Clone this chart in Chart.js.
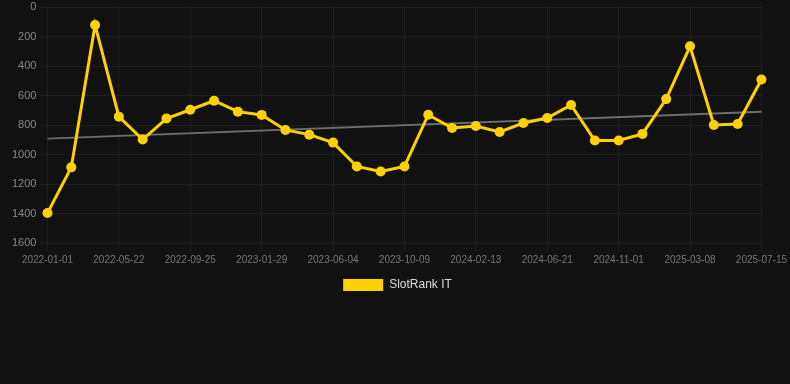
<!DOCTYPE html>
<html>
<head>
<meta charset="utf-8">
<script src="https://cdn.jsdelivr.net/npm/chart.js@4.4.1/dist/chart.umd.min.js"></script>
<style>
  html, body { margin: 0; padding: 0; background: #111111; }
  #wrap { width: 790px; height: 305px; position: relative; }
</style>
</head>
<body>
<div id="wrap"><canvas id="rankChart"></canvas></div>
<script>
// dates on the x axis (only every third one is shown as a tick)
const dates = [
    '2022-01-01', '2022-02-17', '2022-04-05', '2022-05-22', '2022-07-03', '2022-08-14',
    '2022-09-25', '2022-11-05', '2022-12-18', '2023-01-29', '2023-03-12', '2023-04-23',
    '2023-06-04', '2023-07-16', '2023-08-27', '2023-10-09', '2023-11-19', '2024-01-01',
    '2024-02-13', '2024-03-26', '2024-05-08', '2024-06-21', '2024-08-02', '2024-09-18',
    '2024-11-01', '2024-12-13', '2025-01-24', '2025-03-08', '2025-04-20', '2025-06-02',
    '2025-07-15'
];

// SlotRank IT position per date
const rankIT = [
    1397, 1087, 121, 743, 898, 756, 696, 635, 709, 731, 833, 865,
    919, 1081, 1115, 1081, 730, 820, 806, 847, 786, 752, 664, 905,
    905, 860, 624, 266, 799, 793, 491
];

// trend line: start and end values only
const trendStart = 892;
const trendEnd = 710;

const yTicks = [0, 200, 400, 600, 800, 1000, 1200, 1400, 1600];

const trend = dates.map((d, i) => i === 0 ? trendStart : (i === dates.length - 1 ? trendEnd : null));

const FONT = 'Arial, "Liberation Sans", sans-serif';

const ctx = document.getElementById('rankChart').getContext('2d');
new Chart(ctx, {
    type: 'line',
    data: {
        labels: dates,
        datasets: [
            {
                label: 'SlotRank IT',
                data: rankIT,
                borderColor: '#FFD100',
                backgroundColor: '#FFD100',
                borderWidth: 3,
                pointRadius: 5,
                pointHoverRadius: 6,
                pointBackgroundColor: '#FFD100',
                pointBorderWidth: 0,
                tension: 0,
                order: 1
            },
            {
                label: 'trend',
                data: trend,
                borderColor: '#6e6e6e',
                borderWidth: 2,
                pointRadius: 0,
                spanGaps: true,
                order: 2
            }
        ]
    },
    options: {
        responsive: true,
        maintainAspectRatio: false,
        animation: false,
        layout: { padding: { left: 9, right: 4, top: 0, bottom: 4 } },
        plugins: {
            tooltip: { enabled: false },
            legend: {
                position: 'bottom',
                labels: {
                    color: '#dddddd',
                    boxWidth: 40,
                    boxHeight: 12,
                    font: { family: FONT, size: 12 },
                    generateLabels: chart => Chart.defaults.plugins.legend.labels.generateLabels(chart)
                        .filter(item => item.text !== 'trend')
                        .map(item => ({ ...item, lineWidth: 0 }))
                }
            }
        },
        scales: {
            x: {
                grid: { color: 'rgba(255,255,255,0.05)', tickLength: 8 },
                border: { display: false },
                ticks: {
                    color: '#777777',
                    font: { family: FONT, size: 10 },
                    autoSkip: true,
                    maxTicksLimit: 11,
                    maxRotation: 0,
                    minRotation: 0
                }
            },
            y: {
                reverse: true,
                min: yTicks[0],
                max: yTicks[yTicks.length - 1],
                grid: { color: 'rgba(255,255,255,0.05)', tickLength: 8 },
                border: { display: false },
                ticks: {
                    stepSize: 200,
                    color: '#888888',
                    font: { family: FONT, size: 11, lineHeight: 0.75 },
                    callback: v => String(v)
                }
            }
        }
    }
});
</script>
</body>
</html>
